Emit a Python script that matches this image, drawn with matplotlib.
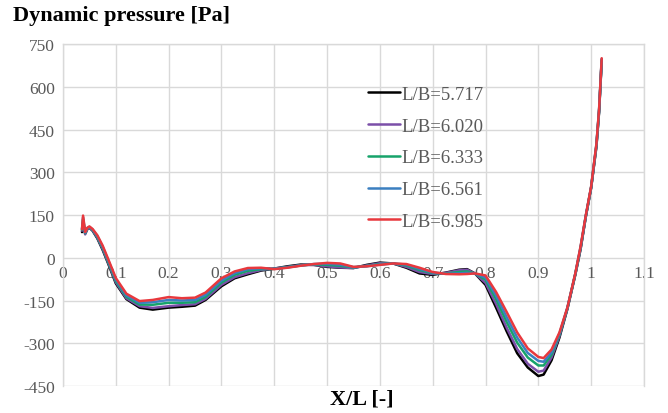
import matplotlib
matplotlib.use("Agg")
import matplotlib.pyplot as plt

# X/L positions along the hull
x_l = [0.036, 0.038, 0.042, 0.046, 0.050, 0.056, 0.065, 0.075, 0.085, 0.10,
       0.12, 0.145, 0.17, 0.20, 0.225, 0.25, 0.27, 0.30, 0.325, 0.35,
       0.375, 0.40, 0.425, 0.45, 0.475, 0.50, 0.525, 0.55, 0.575, 0.60,
       0.625, 0.65, 0.675, 0.70, 0.725, 0.75, 0.765, 0.78, 0.80, 0.82,
       0.84, 0.86, 0.88, 0.90, 0.91, 0.925, 0.94, 0.955, 0.97, 0.98,
       0.99, 1.00, 1.01, 1.015, 1.02]

# dynamic pressure [Pa] for each L/B
p_5717 = [90, 120, 85, 100, 105, 95, 68, 28, -18, -90,
          -145, -175, -182, -175, -172, -168, -148, -100, -72, -58,
          -45, -38, -30, -24, -25, -32, -35, -36, -25, -17,
          -20, -35, -55, -60, -52, -42, -40, -55, -95, -175,
          -258, -335, -385, -415, -410, -360, -280, -180, -60, 30,
          145, 245, 390, 510, 690]
p_6020 = [95, 125, 82, 100, 105, 96, 70, 31, -15, -86,
          -142, -170, -176, -170, -166, -163, -144, -95, -68, -54,
          -43, -38, -32, -26, -25, -30, -34, -36, -27, -19,
          -20, -32, -50, -57, -53, -44, -42, -55, -88, -162,
          -245, -320, -372, -400, -396, -350, -275, -178, -58, 32,
          146, 246, 393, 513, 693]
p_6333 = [98, 135, 86, 102, 107, 98, 73, 35, -11, -81,
          -137, -164, -165, -158, -158, -156, -137, -87, -60, -46,
          -40, -39, -33, -27, -23, -25, -28, -34, -29, -22,
          -20, -27, -43, -54, -55, -50, -48, -55, -77, -145,
          -225, -298, -350, -378, -378, -340, -270, -177, -57, 35,
          147, 247, 395, 515, 695]
p_6561 = [100, 142, 88, 104, 108, 99, 76, 39, -6, -76,
          -132, -158, -156, -148, -150, -148, -130, -80, -54, -40,
          -37, -39, -34, -27, -22, -21, -24, -33, -30, -24,
          -20, -24, -39, -52, -56, -55, -53, -55, -70, -132,
          -208, -280, -334, -362, -365, -332, -266, -176, -56, 38,
          148, 248, 398, 518, 698]
p_6985 = [100, 148, 90, 105, 110, 101, 79, 43, -2, -71,
          -126, -152, -148, -138, -142, -140, -122, -72, -48, -36,
          -35, -40, -35, -28, -22, -18, -20, -32, -30, -25,
          -20, -22, -35, -50, -57, -58, -57, -55, -62, -120,
          -190, -262, -318, -348, -352, -322, -262, -175, -55, 40,
          150, 250, 400, 520, 700]

labels = ["L/B=5.717", "L/B=6.020", "L/B=6.333", "L/B=6.561", "L/B=6.985"]
colors = ["#000000", "#7b4fa8", "#16a36a", "#3b7fc0", "#e8383d"]

x_ticks = [0, 0.1, 0.2, 0.3, 0.4, 0.5, 0.6, 0.7, 0.8, 0.9, 1.0, 1.1]
x_ticklabels = ["0", "0.1", "0.2", "0.3", "0.4", "0.5", "0.6", "0.7", "0.8", "0.9", "1", "1.1"]
y_ticks = [-450, -300, -150, 0, 150, 300, 450, 600, 750]
y_ticklabels = ["-450", "-300", "-150", "0", "150", "300", "450", "600", "750"]

plt.rcParams['font.family'] = ['Liberation Serif', 'DejaVu Serif']
grid_c = "#d9d9d9"
txt_c = "#595959"

fig = plt.figure(figsize=(6.68, 4.14), dpi=100)
ax = fig.add_axes([0.0943, 0.0652, 0.8697, 0.8261])

series = [p_5717, p_6020, p_6333, p_6561, p_6985]
for vals, lab, c in zip(series, labels, colors):
    ax.plot(x_l, vals, color=c, lw=1.8, label=lab, solid_capstyle='round', zorder=3)

ax.set_xlim(0, 1.1)
ax.set_ylim(-450, 750)
ax.set_xticks(x_ticks)
ax.set_xticklabels(x_ticklabels)
ax.set_yticks(y_ticks)
ax.set_yticklabels(y_ticklabels)
ax.grid(True, color=grid_c, lw=1.0, zorder=0)
ax.set_axisbelow(True)

for s in ['top', 'right', 'left']:
    ax.spines[s].set_color(grid_c)
    ax.spines[s].set_linewidth(1.0)
ax.spines['bottom'].set_position(('data', 0))
ax.spines['bottom'].set_visible(False)
ax.tick_params(axis='both', length=0, labelsize=12.5, labelcolor=txt_c)
ax.tick_params(axis='x', pad=5)
ax.tick_params(axis='y', pad=6)

ax.legend(loc='upper left', bbox_to_anchor=(0.525, 0.878), frameon=False,
          fontsize=13.5, handlelength=1.7, handletextpad=0.1, labelspacing=0.78,
          borderpad=0, borderaxespad=0, labelcolor=txt_c)

fig.text(0.019, 0.962, "Dynamic pressure [Pa]", fontsize=16, fontweight='bold',
         ha='left', va='center')
fig.text(0.541, 0.034, "X/L [-]", fontsize=16, fontweight='bold',
         ha='center', va='center')

fig.savefig("out.png", dpi=100)
